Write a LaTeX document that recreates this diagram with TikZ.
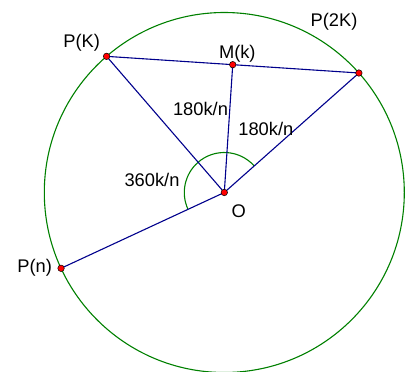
\documentclass[tikz,border=0pt]{standalone}
\usepackage{fontspec}
\setmainfont{Liberation Sans}
\usetikzlibrary{calc}
\begin{document}
\begin{tikzpicture}[x=1pt,y=-1pt,
  seg/.style={draw={rgb,255:red,0;green,0;blue,140},line width=1.1pt},
  circ/.style={draw={rgb,255:red,0;green,128;blue,0},line width=1.1pt},
  dot/.style={circle,fill=red,draw=black,line width=0.5pt,inner sep=0pt,minimum size=6.5pt},
  lbl/.style={font=\fontsize{18.3}{20}\selectfont,inner sep=0pt}]
\useasboundingbox (0,0) rectangle (410,372);
\coordinate (O) at (224.3,192.5);
\draw[circ] (O) circle[radius=180];
\coordinate (PK) at ($(O)+(-130.85:180)$);
\coordinate (P2K) at ($(O)+(-41.6:180)$);
\coordinate (Pn) at ($(O)+(-204.9:180)$);
\coordinate (M) at ($(PK)!0.5!(P2K)$);
\draw[circ] ($(O)+(-41.6:40)$) arc[start angle=-41.6,end angle=-204.9,radius=40];
\draw[seg] (PK) -- (P2K);
\draw[seg] (PK) -- (O);
\draw[seg] (M) -- (O);
\draw[seg] (P2K) -- (O);
\draw[seg] (Pn) -- (O);
\node[dot] (dO) at (O) {};
\node[dot] (dPK) at (PK) {};
\node[dot] (dP2K) at (P2K) {};
\node[dot] (dPn) at (Pn) {};
\node[dot] (dM) at (M) {};
\node[lbl] (lPK) at (81.7,42.3) {P(K)};
\node[lbl] (lP2K) at (334,21.7) {P(2K)};
\node[lbl] (lM) at (237.3,53.3) {M(k)};
\node[lbl] (lPn) at (34.7,267.7) {P(n)};
\node[lbl] (lO) at (238.7,211) {O};
\node[lbl] (l1) at (200.5,109.3) {180k/n};
\node[lbl] (l2) at (265.8,129) {180k/n};
\node[lbl] (l3) at (152,180) {360k/n};
\end{tikzpicture}
\end{document}
